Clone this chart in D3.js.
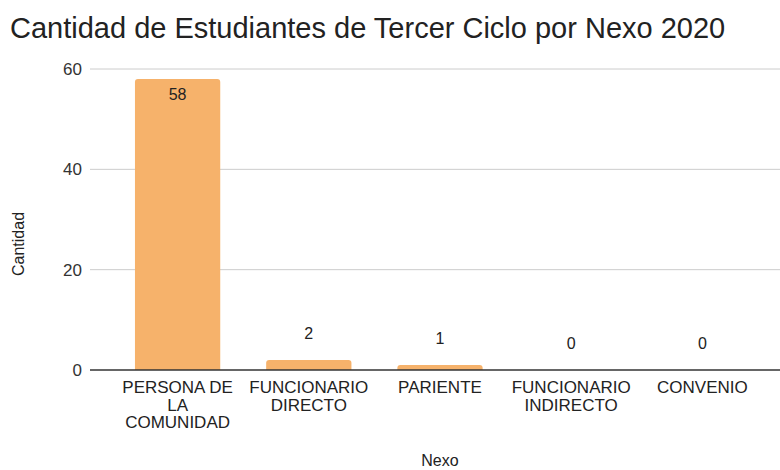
<!DOCTYPE html>
<html>
<head>
<meta charset="utf-8">
<script src="https://cdn.jsdelivr.net/npm/d3@7"></script>
<style>
  body { margin: 0; background: #fff; }
  svg { font-family: "Liberation Sans", Arial, sans-serif; }
</style>
</head>
<body>
<svg id="chart" width="780" height="470"></svg>
<script>
// datos
const categorias = [
  ["PERSONA DE", "LA", "COMUNIDAD"],
  ["FUNCIONARIO", "DIRECTO"],
  ["PARIENTE"],
  ["FUNCIONARIO", "INDIRECTO"],
  ["CONVENIO"]
];
const cantidades = [58, 2, 1, 0, 0];
const ticksY = [0, 20, 40, 60];

const svg = d3.select("#chart");
const W = 780;

const x = d3.scaleBand()
  .domain(d3.range(categorias.length))
  .range([112, 768])
  .paddingInner(0.35)
  .paddingOuter(0.175);

const y = d3.scaleLinear().domain([0, 60]).range([370, 69]);

// título
svg.append("text")
  .attr("x", 10).attr("y", 38)
  .attr("font-size", 29).attr("fill", "#222")
  .text("Cantidad de Estudiantes de Tercer Ciclo por Nexo 2020");

// líneas de cuadrícula
svg.append("g").selectAll("line")
  .data(ticksY.filter(d => d > 0))
  .join("line")
  .attr("x1", 90).attr("x2", W)
  .attr("y1", d => y(d)).attr("y2", d => y(d))
  .attr("stroke", "#cccccc").attr("stroke-width", 1);

// etiquetas eje Y
svg.append("g").selectAll("text")
  .data(ticksY)
  .join("text")
  .attr("x", 82).attr("y", d => y(d) + 6)
  .attr("text-anchor", "end")
  .attr("font-size", 17).attr("fill", "#333")
  .text(d => d);

// barras con esquinas superiores redondeadas
const r = 3;
svg.append("g").selectAll("path")
  .data(cantidades.map((v, i) => ({ v, i })).filter(d => d.v > 0))
  .join("path")
  .attr("fill", "#f6b26b")
  .attr("d", d => {
    const x0 = x(d.i), x1 = x0 + x.bandwidth();
    const y0 = y(d.v), yb = y(0);
    const rr = Math.min(r, (yb - y0));
    return `M${x0},${yb}V${y0 + rr}Q${x0},${y0} ${x0 + rr},${y0}H${x1 - rr}Q${x1},${y0} ${x1},${y0 + rr}V${yb}Z`;
  });

// línea base
svg.append("line")
  .attr("x1", 90).attr("x2", W)
  .attr("y1", y(0)).attr("y2", y(0))
  .attr("stroke", "#333").attr("stroke-width", 1.5);

// etiquetas de valores
svg.append("g").selectAll("text")
  .data(cantidades)
  .join("text")
  .attr("x", (d, i) => x(i) + x.bandwidth() / 2)
  .attr("y", d => d > 30 ? y(d) + 21 : y(d) - 21)
  .attr("text-anchor", "middle")
  .attr("font-size", 16).attr("fill", "#222")
  .text(d => d);

// etiquetas de categorías
const cat = svg.append("g").selectAll("text")
  .data(categorias)
  .join("text")
  .attr("text-anchor", "middle")
  .attr("font-size", 17).attr("fill", "#222");
cat.selectAll("tspan")
  .data((d, i) => d.map(t => ({ t, i })))
  .join("tspan")
  .attr("x", d => x(d.i) + x.bandwidth() / 2)
  .attr("y", (d, j) => 393 + j * 17.5)
  .text(d => d.t);

// títulos de ejes
svg.append("text")
  .attr("x", (x.range()[0] + x.range()[1]) / 2).attr("y", 466)
  .attr("text-anchor", "middle")
  .attr("font-size", 16).attr("fill", "#222")
  .text("Nexo");

svg.append("text")
  .attr("transform", "translate(24,244) rotate(-90)")
  .attr("text-anchor", "middle")
  .attr("font-size", 16).attr("fill", "#222")
  .text("Cantidad");
</script>
</body>
</html>
